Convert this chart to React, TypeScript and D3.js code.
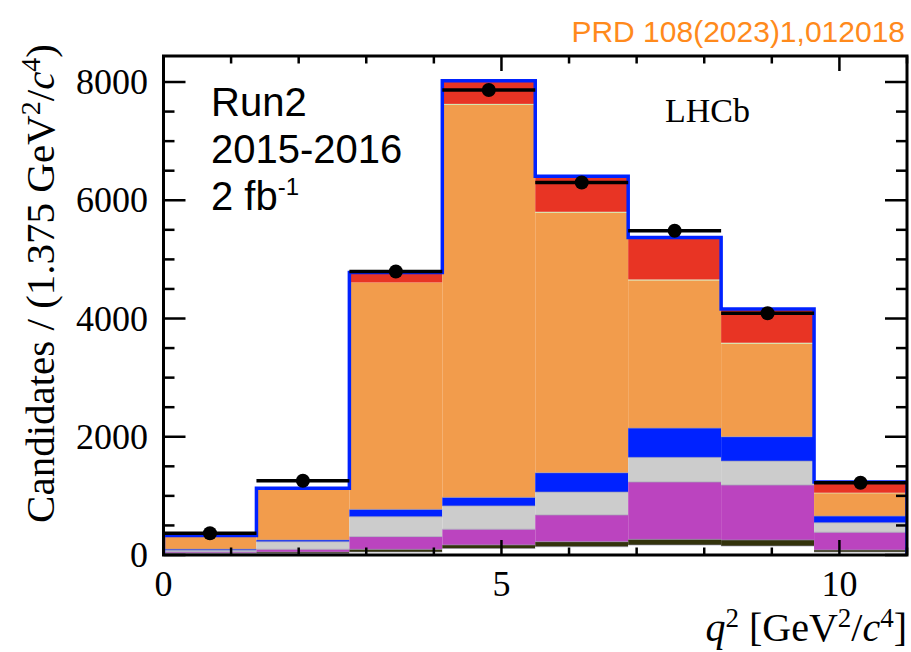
import React from "react";
import * as d3 from "d3";

// q^2 binning (GeV^2/c^4)
const binEdges = [0, 1.375, 2.75, 4.125, 5.5, 6.875, 8.25, 9.625, 11];

// Fit components per bin, stacked bottom to top
const compWhite = [25, 25, 50, 110, 140, 169, 152, 50];
const compOlive = [10, 25, 46, 60, 85, 96, 102, 35];
const compPurple = [20, 46, 214, 265, 451, 969, 929, 299];
const compGray = [25, 129, 338, 395, 389, 417, 406, 162];
const compBlue = [20, 29, 124, 145, 326, 496, 411, 113];
const compOrange = [230, 876, 3838, 6640, 4399, 2498, 1575, 386];
const compGreen = [0, 0, 0, 15, 15, 15, 15, 8];
const compRed = [0, 0, 170, 390, 600, 710, 570, 182];

// Observed candidates per bin
const dataCounts = [367, 1255, 4795, 7865, 6300, 5485, 4090, 1222];

const xTicksMajor = [0, 5, 10];
const xTicksMinor = [1, 2, 3, 4, 6, 7, 8, 9, 11];
const yTicksMajor = [0, 2000, 4000, 6000, 8000];
const yTicksMinor = [500, 1000, 1500, 2500, 3000, 3500, 4500, 5000, 5500, 6500, 7000, 7500];

const components = [
  { values: compWhite, fill: "#ffffff", edge: true },
  { values: compOlive, fill: "#33330c", edge: true },
  { values: compPurple, fill: "#bb44bf", edge: true },
  { values: compGray, fill: "#cccccc", edge: true },
  { values: compBlue, fill: "#0022ff", edge: true },
  { values: compOrange, fill: "#f29c4c", edge: false },
  { values: compGreen, fill: "#c9e6a3", edge: false },
  { values: compRed, fill: "#e83424", edge: false },
];

const W = 911;
const H = 652;
const left = 163.5;
const right = 907;
const top = 56;
const bottom = 555;

export default function App() {
  const x = d3.scaleLinear().domain([0, 11]).range([left, right]);
  const y = d3.scaleLinear().domain([0, 8440]).range([bottom, top]);

  const nBins = dataCounts.length;
  // cumulative stack boundaries
  const stacked: { y0: number; y1: number; fill: string; edge: boolean; bin: number }[] = [];
  const totals: number[] = [];
  for (let b = 0; b < nBins; b++) {
    let acc = 0;
    components.forEach((c) => {
      const v = c.values[b];
      stacked.push({ y0: acc, y1: acc + v, fill: c.fill, edge: c.edge, bin: b });
      acc += v;
    });
    totals.push(acc);
  }

  const outlinePts: [number, number][] = [[binEdges[0], 0]];
  totals.forEach((t, b) => {
    outlinePts.push([binEdges[b], t]);
    outlinePts.push([binEdges[b + 1], t]);
  });
  outlinePts.push([binEdges[nBins], 0]);
  const outline = d3
    .line<[number, number]>()
    .x((d) => x(d[0]))
    .y((d) => y(d[1]))(outlinePts);

  const serif = "'Liberation Serif', 'Times New Roman', serif";
  const sans = "'Liberation Sans', Arial, sans-serif";

  return (
    <svg width={W} height={H} style={{ position: "absolute", left: 0, top: 0, background: "#fff" }}>
      <defs>
        <clipPath id="plotArea">
          <rect x={left} y={top} width={right - left} height={bottom - top} />
        </clipPath>
      </defs>
      <g clipPath="url(#plotArea)">
        {stacked.map((s, i) =>
          s.y1 > s.y0 ? (
            <rect
              key={i}
              x={x(binEdges[s.bin])}
              width={x(binEdges[s.bin + 1]) - x(binEdges[s.bin])}
              y={y(s.y1)}
              height={y(s.y0) - y(s.y1)}
              fill={s.fill}
            />
          ) : null
        )}
        {stacked.map((s, i) =>
          s.y1 > s.y0 && s.edge ? (
            <line
              key={"l" + i}
              x1={x(binEdges[s.bin])}
              x2={x(binEdges[s.bin + 1])}
              y1={y(s.y1)}
              y2={y(s.y1)}
              stroke="#9a98b0"
              strokeOpacity={0.6}
              strokeWidth={1}
            />
          ) : null
        )}
        <path d={outline ?? ""} fill="none" stroke="#0022ff" strokeWidth={3.5} />
        {dataCounts.map((v, b) => {
          const cx = x((binEdges[b] + binEdges[b + 1]) / 2);
          const err = Math.sqrt(v);
          return (
            <g key={"d" + b}>
              <line x1={x(binEdges[b])} x2={x(binEdges[b + 1])} y1={y(v)} y2={y(v)} stroke="#000" strokeWidth={3.5} />
              <line x1={cx} x2={cx} y1={y(v - err)} y2={y(v + err)} stroke="#000" strokeWidth={3} />
              <circle cx={cx} cy={y(v)} r={7} fill="#000" />
            </g>
          );
        })}
      </g>

      {/* frame */}
      <rect x={left} y={top} width={right - left} height={bottom - top} fill="none" stroke="#000" strokeWidth={3} />

      {/* x ticks, bottom and top */}
      {xTicksMajor.map((t) => (
        <g key={"xM" + t}>
          <line x1={x(t)} x2={x(t)} y1={bottom} y2={bottom - 15} stroke="#000" strokeWidth={2.5} />
          <line x1={x(t)} x2={x(t)} y1={top} y2={top + 15} stroke="#000" strokeWidth={2.5} />
          <text x={x(t)} y={596} textAnchor="middle" fontFamily={serif} fontSize={36}>
            {t}
          </text>
        </g>
      ))}
      {xTicksMinor.map((t) => (
        <g key={"xm" + t}>
          <line x1={x(t)} x2={x(t)} y1={bottom} y2={bottom - 7.5} stroke="#000" strokeWidth={2.5} />
          <line x1={x(t)} x2={x(t)} y1={top} y2={top + 7.5} stroke="#000" strokeWidth={2.5} />
        </g>
      ))}

      {/* y ticks, left and right */}
      {yTicksMajor.map((t) => (
        <g key={"yM" + t}>
          <line x1={left} x2={left + 22} y1={y(t)} y2={y(t)} stroke="#000" strokeWidth={2.5} />
          <line x1={right} x2={right - 22} y1={y(t)} y2={y(t)} stroke="#000" strokeWidth={2.5} />
          <text x={148} y={y(t) + 12} textAnchor="end" fontFamily={serif} fontSize={36}>
            {t}
          </text>
        </g>
      ))}
      {yTicksMinor.map((t) => (
        <g key={"ym" + t}>
          <line x1={left} x2={left + 11} y1={y(t)} y2={y(t)} stroke="#000" strokeWidth={2.5} />
          <line x1={right} x2={right - 11} y1={y(t)} y2={y(t)} stroke="#000" strokeWidth={2.5} />
        </g>
      ))}

      {/* axis titles */}
      <text
        transform="translate(54,44) rotate(-90)"
        textAnchor="end"
        fontFamily={serif}
        fontSize={41}
      >
        Candidates / (1.375 GeV
        <tspan dy={-14} fontSize={28}>2</tspan>
        <tspan dy={14}>/</tspan>
        <tspan fontStyle="italic">c</tspan>
        <tspan dy={-14} fontSize={28}>4</tspan>
        <tspan dy={14}>)</tspan>
      </text>
      <text x={907} y={641} textAnchor="end" fontFamily={serif} fontSize={40}>
        <tspan fontStyle="italic">q</tspan>
        <tspan dy={-14} fontSize={27}>2</tspan>
        <tspan dy={14}> [GeV</tspan>
        <tspan dy={-14} fontSize={27}>2</tspan>
        <tspan dy={14}>/</tspan>
        <tspan fontStyle="italic">c</tspan>
        <tspan dy={-14} fontSize={27}>4</tspan>
        <tspan dy={14}>]</tspan>
      </text>

      {/* annotations */}
      <text x={211} y={116} fontFamily={sans} fontSize={40}>Run2</text>
      <text x={211} y={163} fontFamily={sans} fontSize={40}>2015-2016</text>
      <text x={211} y={210} fontFamily={sans} fontSize={40}>
        2 fb<tspan dy={-15} fontSize={24}>-1</tspan>
      </text>
      <text x={665} y={122} fontFamily={serif} fontSize={34}>LHCb</text>
      <text x={905} y={42} textAnchor="end" fontFamily={sans} fontSize={30} fill="#ff8a1c">
        PRD 108(2023)1,012018
      </text>
    </svg>
  );
}
